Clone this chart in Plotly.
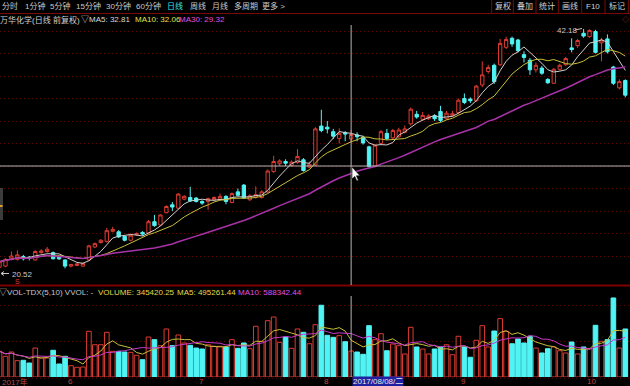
import pandas as pd
import plotly.graph_objects as go

W, H = 630, 386

# ---------------- data ----------------
holidays = ['2017-05-29', '2017-05-30', '2017-10-02', '2017-10-03',
            '2017-10-04', '2017-10-05', '2017-10-06']
dates = [d.strftime('%Y-%m-%d') for d in pd.bdate_range('2017-05-15', '2017-10-18')
         if d.strftime('%Y-%m-%d') not in holidays]

open_ = [21.0, 21.1, 21.7, 21.7, 21.95, 21.9, 21.65, 22.3, 22.4, 22.3,
         21.95, 21.65, 21.1, 21.15, 21.1, 21.65, 22.8, 23.2, 23.3, 24.2,
         24.15, 23.75, 23.4, 23.9, 24.1, 24.05, 25.05, 24.75, 25.85, 26.55,
         26.25, 27.05, 27.2, 27.15, 26.85, 26.85, 27.0, 27.05, 27.3, 26.75,
         27.7, 28.3, 27.0, 27.25, 27.2, 27.7, 29.5, 30.2, 30.4, 30.05,
         30.3, 30.55, 29.9, 30.1, 33.55, 33.45, 33.05, 32.45, 32.95, 32.4,
         32.75, 32.55, 31.7, 30.0, 32.0, 32.9, 32.5, 32.6, 33.0, 33.75,
         34.6, 34.15, 34.2, 34.45, 34.85, 34.2, 34.5, 34.75, 36.0, 35.95,
         35.8, 37.2, 38.4, 38.95, 39.0, 40.55, 41.35, 41.2, 39.9, 39.4,
         38.55, 38.7, 37.7, 37.35, 38.6, 39.0, 40.5, 40.7, 41.8, 41.5,
         41.95, 40.95, 41.3, 38.8, 36.95, 37.6]
high = [21.6, 21.8, 22.4, 22.5, 22.1, 22.0, 22.5, 22.6, 22.8, 22.4,
        22.0, 21.7, 21.3, 21.35, 21.4, 23.0, 23.2, 23.5, 24.5, 24.6,
        24.3, 23.8, 24.0, 24.1, 24.2, 25.2, 25.65, 25.7, 26.5, 26.8,
        27.6, 27.4, 28.15, 27.25, 26.95, 27.2, 27.3, 27.55, 27.4, 27.65,
        28.0, 28.4, 27.5, 28.2, 27.85, 29.7, 30.9, 30.6, 30.6, 30.5,
        31.5, 30.7, 30.4, 33.45, 35.0, 34.0, 33.3, 33.35, 33.1, 33.2,
        33.0, 32.7, 31.8, 31.9, 33.2, 33.3, 33.3, 33.4, 33.6, 35.2,
        34.9, 34.8, 34.6, 34.6, 35.35, 34.9, 34.9, 36.0, 36.45, 36.1,
        37.2, 39.3, 39.0, 39.1, 41.3, 41.5, 41.5, 41.3, 40.2, 39.6,
        39.2, 38.9, 37.8, 38.7, 39.1, 39.7, 41.35, 41.3, 42.18, 42.15,
        42.1, 41.4, 41.7, 38.9, 37.7, 37.7]
low = [20.52, 21.0, 21.6, 21.6, 21.6, 21.6, 21.6, 22.2, 22.3, 21.7,
       21.65, 20.9, 21.0, 21.1, 21.05, 21.6, 22.7, 23.1, 23.2, 24.1,
       23.6, 23.3, 23.3, 23.8, 23.8, 24.0, 24.6, 24.7, 25.8, 26.0,
       26.2, 26.95, 26.8, 26.75, 26.55, 26.1, 26.9, 27.0, 26.6, 26.7,
       27.3, 27.1, 26.9, 27.1, 27.1, 27.6, 29.4, 30.0, 30.0, 29.95,
       30.2, 29.5, 29.8, 30.0, 33.0, 32.9, 32.4, 32.0, 32.2, 32.1,
       32.2, 31.9, 29.85, 29.9, 31.9, 32.3, 32.4, 32.5, 32.9, 33.6,
       34.2, 34.0, 34.1, 34.0, 33.9, 34.1, 34.4, 34.6, 35.5, 35.6,
       35.7, 37.0, 38.2, 37.3, 38.9, 40.4, 40.6, 40.1, 39.2, 38.1,
       38.3, 38.1, 37.3, 37.3, 38.5, 38.9, 40.1, 40.5, 41.4, 41.4,
       40.0, 39.3, 40.0, 37.2, 36.8, 36.1]
close = [21.5, 21.7, 22.0, 22.1, 21.75, 21.8, 22.4, 22.45, 22.6, 21.75,
         21.75, 21.1, 21.25, 21.3, 21.35, 22.9, 23.1, 23.4, 24.25, 24.35,
         23.7, 23.4, 23.85, 24.0, 23.95, 25.05, 24.7, 25.65, 26.4, 26.35,
         27.5, 27.3, 26.9, 26.85, 26.7, 27.1, 27.2, 27.3, 26.85, 27.55,
         27.4, 27.15, 27.35, 27.45, 27.7, 29.55, 30.4, 30.45, 30.25, 30.35,
         30.85, 29.6, 30.15, 33.3, 33.15, 33.3, 32.65, 32.9, 32.85, 32.8,
         32.6, 32.05, 29.95, 31.85, 33.05, 32.45, 33.15, 33.2, 33.3, 35.05,
         34.35, 34.5, 34.45, 34.2, 34.05, 34.7, 34.65, 35.85, 35.65, 35.8,
         37.1, 38.1, 38.75, 37.5, 40.9, 41.25, 40.85, 40.25, 39.65, 38.55,
         38.95, 38.25, 37.4, 38.6, 38.95, 39.55, 40.35, 41.15, 41.55, 42.05,
         40.1, 41.2, 40.15, 37.35, 37.5, 36.3]
volume = [341000, 275000, 332000, 217000, 222000, 186000, 385000, 252000, 252000, 355000,
          173000, 275000, 150000, 129000, 133000, 607000, 429000, 429000, 594000, 341000,
          341000, 332000, 328000, 288000, 230000, 531000, 496000, 416000, 638000, 416000,
          558000, 452000, 421000, 385000, 372000, 429000, 408000, 408000, 399000, 496000,
          381000, 452000, 376000, 674000, 474000, 748000, 797000, 461000, 531000, 381000,
          638000, 594000, 442000, 695000, 953000, 554000, 527000, 549000, 469000, 345420,
          332000, 302000, 682000, 496000, 575000, 349000, 438000, 416000, 306000, 660000,
          399000, 372000, 306000, 372000, 399000, 429000, 296000, 541000, 399000, 262000,
          488000, 682000, 399000, 611000, 775000, 607000, 442000, 505000, 452000, 541000,
          385000, 319000, 376000, 399000, 349000, 319000, 465000, 306000, 399000, 376000,
          687000, 474000, 496000, 1050000, 385000, 638000]

month_ticks = [('2017-06-01', '6'), ('2017-07-03', '7'), ('2017-08-01', '8'),
               ('2017-09-01', '9'), ('2017-10-09', '10')]
cross_date = '2017-08-08'

# ---------------- derived ----------------
cs = pd.Series(close)
ma5 = cs.rolling(5, min_periods=1).mean()
ma10 = cs.rolling(10, min_periods=1).mean()
ma30 = cs.rolling(30, min_periods=1).mean()
vs = pd.Series(volume)
vma5 = vs.rolling(5, min_periods=1).mean()
vma10 = vs.rolling(10, min_periods=1).mean()

RED = '#dc3c32'
CYAN = '#50f4f4'
GRID = '#5e0606'
GDASH = '1px,3px'

up = [c >= o for o, c in zip(open_, close)]
vfill = ['#000000' if u else CYAN for u in up]
vline = [RED if u else CYAN for u in up]


def px(x):
    return x / W


def py(y):
    return 1 - y / H


# pixel geometry
PRICE_TOP, PRICE_BOT = 28, 285
P_REF_Y, P_REF_V, P_SCALE = 31, 42.0, 11.25
VOL_TOP, VOL_BOT, V_SCALE = 296, 377, 13285.0
X0, DX = -0.5, 5.96

price_rng = [P_REF_V - (PRICE_BOT - P_REF_Y) / P_SCALE, P_REF_V + (P_REF_Y - PRICE_TOP) / P_SCALE]
vol_rng = [0, (VOL_BOT - VOL_TOP) * V_SCALE]
x_rng = [(0 - X0) / DX, (W - X0) / DX]

fig = go.Figure()

fig.add_trace(go.Candlestick(
    x=dates, open=open_, high=high, low=low, close=close,
    increasing=dict(line=dict(color=RED, width=1), fillcolor='#000000'),
    decreasing=dict(line=dict(color=CYAN, width=1), fillcolor=CYAN),
    whiskerwidth=0, xaxis='x', yaxis='y', showlegend=False, hoverinfo='skip'))

fig.add_trace(go.Scatter(x=dates, y=ma5, mode='lines', line=dict(color='#d0d0d0', width=1),
                         xaxis='x', yaxis='y', showlegend=False, hoverinfo='skip'))
fig.add_trace(go.Scatter(x=dates, y=ma10, mode='lines', line=dict(color='#c8c03a', width=1),
                         xaxis='x', yaxis='y', showlegend=False, hoverinfo='skip'))
fig.add_trace(go.Scatter(x=dates, y=ma30, mode='lines', line=dict(color='#a832a8', width=1.5),
                         xaxis='x', yaxis='y', showlegend=False, hoverinfo='skip'))

fig.add_trace(go.Bar(x=dates, y=volume, marker=dict(color=vfill, line=dict(color=vline, width=1)),
                     xaxis='x2', yaxis='y2', showlegend=False, hoverinfo='skip'))
fig.add_trace(go.Scatter(x=dates, y=vma5, mode='lines', line=dict(color='#c8c03a', width=1),
                         xaxis='x2', yaxis='y2', showlegend=False, hoverinfo='skip'))
fig.add_trace(go.Scatter(x=dates, y=vma10, mode='lines', line=dict(color='#c83ac8', width=1),
                         xaxis='x2', yaxis='y2', showlegend=False, hoverinfo='skip'))

xcommon = dict(type='category', categoryorder='array', categoryarray=dates, range=x_rng,
               showticklabels=False, showgrid=False, zeroline=False, showline=False,
               ticks='', fixedrange=True)

fig.update_layout(
    width=W, height=H,
    margin=dict(l=0, r=0, t=0, b=0, pad=0),
    paper_bgcolor='#000000', plot_bgcolor='#000000',
    boxgap=0.2, bargap=0.22,
    showlegend=False,
    xaxis=dict(**xcommon, domain=[0, 1], anchor='y', rangeslider=dict(visible=False)),
    xaxis2=dict(**xcommon, domain=[0, 1], anchor='y2', matches='x'),
    yaxis=dict(domain=[py(PRICE_BOT), py(PRICE_TOP)], range=price_rng,
               tickvals=[22, 24, 26, 28, 30, 32, 34, 36, 38, 40, 42],
               showticklabels=False, showgrid=True, gridcolor=GRID, griddash=GDASH, gridwidth=1,
               zeroline=False, showline=False, ticks='', fixedrange=True),
    yaxis2=dict(domain=[py(VOL_BOT), py(VOL_TOP)], range=vol_rng,
                tickvals=[36 * V_SCALE, 72 * V_SCALE],
                showticklabels=False, showgrid=True, gridcolor=GRID, griddash=GDASH, gridwidth=1,
                zeroline=False, showline=False, ticks='', fixedrange=True),
    font=dict(family='Liberation Sans, Noto Sans CJK SC, sans-serif', size=8, color='#c8c8c8'),
)

shapes = []
ann = []

FONT = 'Liberation Sans, Noto Sans CJK SC, sans-serif'
FS = 8


def text(t, x, y, color='#c8c8c8', size=FS, anchor='left', **kw):
    ann.append(dict(text=t, x=px(x), y=py(y), xref='paper', yref='paper', showarrow=False,
                    xanchor=anchor, yanchor='middle', font=dict(family=FONT, size=size, color=color),
                    **kw))


def hline(x1, x2, y, color, width=1, dash=None):
    shapes.append(dict(type='line', xref='paper', yref='paper', x0=px(x1), x1=px(x2),
                       y0=py(y), y1=py(y), line=dict(color=color, width=width, dash=dash)))


def vline_px(x, y1, y2, color, width=1):
    shapes.append(dict(type='line', xref='paper', yref='paper', x0=px(x), x1=px(x),
                       y0=py(y1), y1=py(y2), line=dict(color=color, width=width)))


# toolbar
hline(0, W, 13.5, '#7a0a0a', 1)
tool = [('分时', 0), ('1分钟', 23), ('5分钟', 48), ('15分钟', 74), ('30分钟', 104),
        ('60分钟', 134), ('日线', 165), ('周线', 188), ('月线', 210), ('多周期', 232), ('更多 >', 260)]
for t, x in tool:
    text(t, x, 6.5, color=('#3ce0e0' if t == '日线' else '#c8c8c8'))
for xb in [491.7, 513.3, 536, 558.3, 581.7, 605, 628.3]:
    vline_px(xb, 0, 13.5, '#7a0a0a', 1)
for t, x in [('复权', 502.5), ('叠加', 524.7), ('统计', 547.2), ('画线', 570), ('F10', 593.3), ('标记', 616.7)]:
    text(t, x, 6.5, color='#d0d0d0', anchor='center')
text('◇', 625, 20, color='#d03030', size=7, anchor='center')

# price title
text('万华化学(日线 前复权)', -2, 20, color='#d0d0d0')
text('▽MA5: 32.81', 79, 20, color='#d8d8d8')
text('MA10: 32.06', 133, 20, color='#e6e04a')
text('MA30: 29.32', 177, 20, color='#e050e0')

# separator and volume title
hline(0, W, 285.5, '#7f0000', 2)
text('▽VOL-TDX(5,10) VVOL: -', -3, 292, color='#c8c8c8')
text('VOLUME: 345420.25', 96, 292, color='#e6d84a')
text('MA5: 495261.44', 175, 292, color='#e6d84a')
text('MA10: 588342.44', 236, 292, color='#e050e0')

# bottom base line
hline(0, W, 378, GRID, 1, GDASH)

# crosshair
shapes.append(dict(type='line', xref='x', yref='paper', x0=cross_date, x1=cross_date,
                   y0=py(25), y1=py(285), line=dict(color='#b4b4b4', width=1)))
shapes.append(dict(type='line', xref='x', yref='paper', x0=cross_date, x1=cross_date,
                   y0=py(296), y1=py(377), line=dict(color='#b4b4b4', width=1)))
hline(0, W, 166, '#b4b4b4', 1)

# mouse pointer
pts = [(352, 167), (352, 179), (354.8, 176.4), (356.8, 181), (358.4, 180.3), (356.4, 175.8), (360, 175.8)]
path = 'M ' + ' L '.join(f'{px(a):.5f},{py(b):.5f}' for a, b in pts) + ' Z'
shapes.append(dict(type='path', xref='paper', yref='paper', path=path,
                   fillcolor='#ffffff', line=dict(color='#000000', width=0.6)))

# left handle
shapes.append(dict(type='rect', xref='paper', yref='paper', x0=px(-3), x1=px(3), y0=py(220), y1=py(188),
                   fillcolor='#3c3c3c', line=dict(width=0)))
shapes.append(dict(type='rect', xref='paper', yref='paper', x0=px(0), x1=px(2.5), y0=py(207), y1=py(205),
                   fillcolor='#e0a020', line=dict(width=0)))

# high / low labels
text('42.18', 555, 30.5, color='#c8c8c8')
shapes.append(dict(type='line', xref='paper', yref='paper', x0=px(575), x1=px(582), y0=py(30), y1=py(28.5),
                   line=dict(color='#c8c8c8', width=1)))
text('20.52', 10, 274, color='#c8c8c8')
hline(1, 9, 273.5, '#c8c8c8', 1)
shapes.append(dict(type='path', xref='paper', yref='paper',
                   path=f'M {px(4):.5f},{py(271.5):.5f} L {px(1):.5f},{py(273.5):.5f} L {px(4):.5f},{py(275.5):.5f}',
                   line=dict(color='#c8c8c8', width=1)))
text('S', 17, 281, color='#e03030', size=7, anchor='center')

# bottom date labels
text('2017年', 0, 381.5, color='#b05050')
for d, lab in month_ticks:
    ann.append(dict(text=lab, x=d, y=py(381.5), xref='x', yref='paper', showarrow=False,
                    xanchor='left', yanchor='middle', xshift=1,
                    font=dict(family=FONT, size=FS, color='#c04040')))
text('2017/08/08/二', 352, 381.5, color='#e8e8e8', bgcolor='#2020a0', borderpad=0)

fig.update_layout(shapes=shapes, annotations=ann)

fig.write_html("out.html", include_plotlyjs=True, config={'displayModeBar': False},
               post_script="document.body.style.margin='0';document.body.style.background='#000';")
